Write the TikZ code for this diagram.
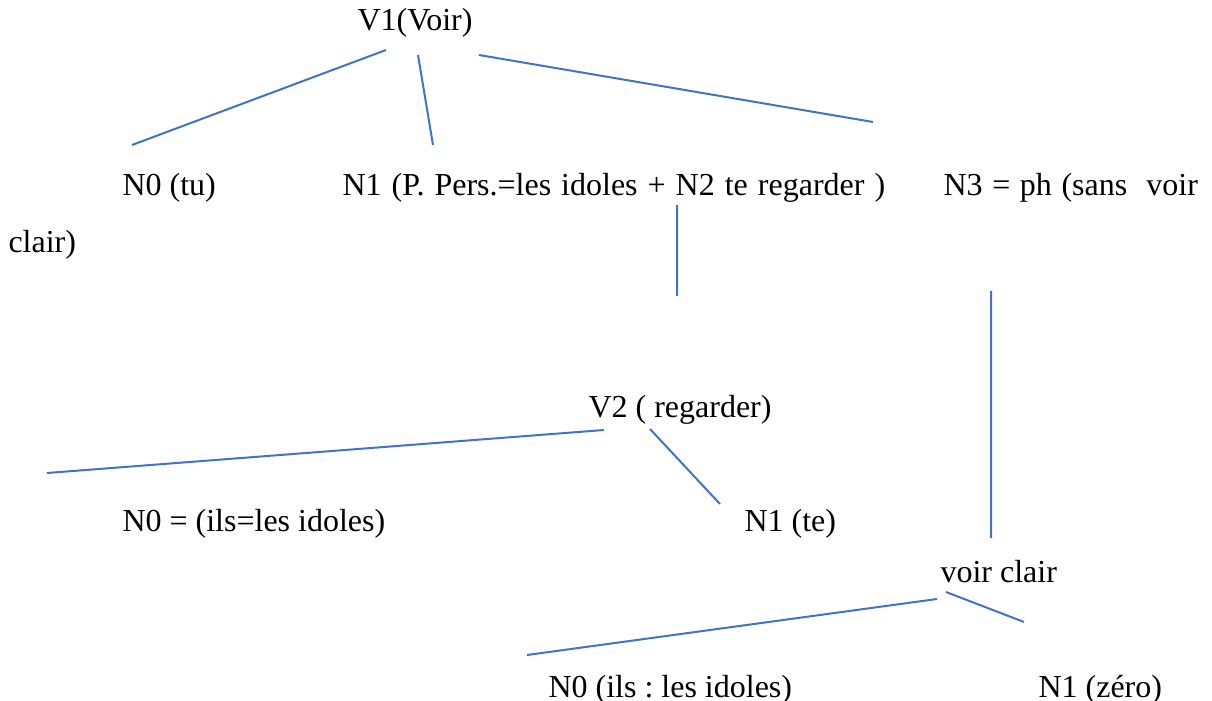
\documentclass[tikz,border=0pt]{standalone}
\usepackage{fontspec}
\setmainfont{Liberation Serif}
\usepackage{xcolor}
\usepackage{tikz}
\definecolor{linkblue}{HTML}{4472C4}
\frenchspacing

\begin{document}
\begin{tikzpicture}[x=0.375pt,y=-0.375pt,
    lbl/.style={anchor=base west,inner sep=0pt,font=\fontsize{12}{14}\selectfont\frenchspacing},
    link/.style={draw,color=linkblue,line width=0.75pt}]
    \useasboundingbox (0,0) rectangle (1212,701);
    % Nodes
    \node[lbl] (V1) at (357,31) {V1(Voir)};
    \node[lbl] (N0) at (122,196) {N0 (tu)};
    \node[lbl] (N1) at (342,196) {\spaceskip=3.75pt N1 (P. Pers.=les idoles + N2 te regarder )};
    \node[lbl] (N3) at (943,196) {\spaceskip=3.6pt N3 = ph (sans\ \ voir};
    \node[lbl] (N3b) at (8,253) {clair)};
    \node[lbl] (V2) at (588,418) {V2 ( regarder)};
    \node[lbl] (V2N0) at (122,531) {N0 = (ils=les idoles)};
    \node[lbl] (V2N1) at (744,531) {N1 (te)};
    \node[lbl] (VC) at (940,582) {voir clair};
    \node[lbl] (VCN0) at (548,697) {N0 (ils : les idoles)};
    \node[lbl] (VCN1) at (1038,697) {N1 (zéro)};

    % Edge ends
    \coordinate (V1-a) at (386,50);
    \coordinate (N0-a) at (132,145);
    \coordinate (V1-b) at (418,55);
    \coordinate (N1-a) at (433,145);
    \coordinate (V1-c) at (479,55);
    \coordinate (N3-a) at (873,122);
    \coordinate (N1-b) at (677,205);
    \coordinate (V2-a) at (677,296);
    \coordinate (N3-b) at (991,291);
    \coordinate (VC-a) at (991,538);
    \coordinate (V2-b) at (604,430);
    \coordinate (V2N0-a) at (47,473);
    \coordinate (V2-c) at (650,429);
    \coordinate (V2N1-a) at (720,504);
    \coordinate (VC-b) at (937,599);
    \coordinate (VCN0-a) at (527,655);
    \coordinate (VC-c) at (946,592);
    \coordinate (VCN1-a) at (1024,622);

    % Edges
    \path[link]
        (V1-a) -- (N0-a)
        (V1-b) -- (N1-a)
        (V1-c) -- (N3-a)
        (N1-b) -- (V2-a)
        (N3-b) -- (VC-a)
        (V2-b) -- (V2N0-a)
        (V2-c) -- (V2N1-a)
        (VC-b) -- (VCN0-a)
        (VC-c) -- (VCN1-a);
\end{tikzpicture}
\end{document}
